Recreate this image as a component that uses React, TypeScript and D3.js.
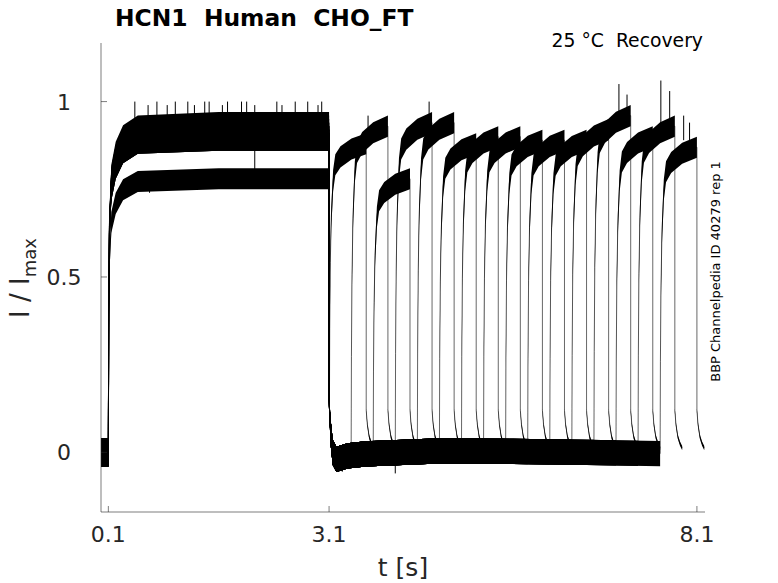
import * as d3 from "d3";
import { useMemo } from "react";

const WIDTH = 778;
const HEIGHT = 583;

// protocol times [s]
const PULSE1_ON = 0.1;
const PULSE1_OFF = 3.1;
const PULSE2_ON = [3.105, 3.4, 3.7, 4.0, 4.3, 4.6, 4.9, 5.2, 5.5, 5.8, 6.1, 6.4, 6.7, 7.0, 7.3, 7.6];
const PULSE2_LEN = 0.5;

// plateau levels (I / Imax) of each sweep
const PULSE1_LEVEL = [0.9, 0.93, 0.78, 0.91, 0.92, 0.89, 0.92, 0.9, 0.93, 0.9, 0.89, 0.94, 0.91, 0.9, 0.92, 0.89];
const PULSE2_LEVEL = [0.88, 0.93, 0.78, 0.94, 0.94, 0.88, 0.9, 0.9, 0.89, 0.89, 0.89, 0.92, 0.96, 0.9, 0.93, 0.87];

// trace shapes: [time after step (s), fraction or value]
const PRE_BASE: [number, number][] = [[0.005, 0], [0.1, 0]];
const RISE1: [number, number][] = [
  [0, 0], [0.005, 0.45], [0.015, 0.7], [0.04, 0.84], [0.1, 0.91], [0.2, 0.96], [0.4, 0.99], [1.5, 1], [3.0, 1],
];
const BASE_AFTER: [number, number][] = [
  [0, 0.15], [0.02, 0.06], [0.05, 0], [0.1, -0.02], [0.25, -0.01], [0.5, -0.004],
  [1.5, 0.004], [2.5, 0.003], [3.5, 0], [4.6, -0.004],
];
const RISE2: [number, number][] = [
  [0, 0], [0.004, 0.3], [0.012, 0.55], [0.025, 0.72], [0.05, 0.86], [0.08, 0.92], [0.15, 0.95], [0.3, 0.98], [0.5, 1],
];
const TAIL2: [number, number][] = [[0, 0.12], [0.015, 0.08], [0.04, 0.045], [0.07, 0.025], [0.1, 0.012]];

// noise half-width of the recordings
const NOISE_PRE = 0.04;
const NOISE_PULSE = 0.03;
const NOISE_BASE = 0.036;
const NOISE_TAIL = 0.006;

// single tall noise spikes: [t, low, high]
const SPIKES: [number, number, number][] = [
  [0.46, 0.93, 1.0], [0.64, 0.93, 0.99], [0.76, 0.93, 1.0], [0.9, 0.93, 0.99], [1.01, 0.93, 1.0],
  [1.18, 0.93, 1.0], [1.27, 0.93, 0.99], [1.41, 0.93, 1.0], [1.47, 0.93, 1.0], [1.65, 0.93, 0.99],
  [1.72, 0.93, 1.0], [1.91, 0.93, 1.0], [1.98, 0.93, 1.0], [2.09, 0.93, 0.99], [2.39, 0.93, 1.0],
  [2.46, 0.93, 0.99], [2.64, 0.93, 1.0], [2.81, 0.93, 1.0], [2.95, 0.93, 0.99], [3.0, 0.93, 1.0],
  [2.09, 0.76, 0.86], [0.66, 0.74, 0.8],
  [3.63, 0.9, 0.96], [4.46, 0.93, 1.0], [7.04, 0.96, 1.05], [7.15, 0.96, 1.02],
  [7.61, 0.92, 1.06], [7.73, 0.92, 1.03], [7.92, 0.89, 0.96], [8.0, 0.89, 0.94],
  [4.0, -0.06, -0.03], [3.22, -0.055, -0.03], [3.28, -0.055, -0.03],
];

const X_TICKS = [0.1, 3.1, 8.1];
const Y_TICKS = [0, 0.5, 1];

type Pt = { t: number; v: number; n: number };

function interp(table: [number, number][], dt: number) {
  for (let i = 1; i < table.length; i++) {
    if (dt <= table[i][0]) {
      const [t0, v0] = table[i - 1];
      const [t1, v1] = table[i];
      return v0 + ((v1 - v0) * (dt - t0)) / (t1 - t0);
    }
  }
  return table[table.length - 1][1];
}

function sweep(k: number): Pt[] {
  const pts: Pt[] = [];
  const l1 = PULSE1_LEVEL[k];
  const l2 = PULSE2_LEVEL[k];
  const on2 = PULSE2_ON[k];

  PRE_BASE.forEach(([t, v]) => pts.push({ t, v, n: NOISE_PRE }));
  RISE1.forEach(([dt, f], i) => pts.push({ t: PULSE1_ON + dt, v: l1 * f, n: i === 0 ? 0 : NOISE_PULSE }));

  // back to holding potential until the second step
  const gap = on2 - PULSE1_OFF;
  BASE_AFTER.filter(([dt]) => dt < gap).forEach(([dt, v], i) =>
    pts.push({ t: PULSE1_OFF + dt, v, n: i === 0 ? NOISE_TAIL : NOISE_BASE })
  );
  const base = interp(BASE_AFTER, gap);
  pts.push({ t: on2, v: base, n: gap < 0.05 ? NOISE_TAIL : NOISE_BASE });

  RISE2.forEach(([dt, f], i) =>
    pts.push({ t: on2 + dt, v: base + (l2 - base) * f, n: i === 0 ? 0 : NOISE_PULSE })
  );
  TAIL2.forEach(([dt, v]) => pts.push({ t: on2 + PULSE2_LEN + dt, v, n: NOISE_TAIL }));
  return pts;
}

export default function App() {
  const x = d3.scaleLinear().domain([0, 8.21]).range([101, 705]);
  const y = d3.scaleLinear().domain([-0.17, 1.167]).range([512, 43]);

  const sweeps = useMemo(() => PULSE2_ON.map((_, k) => sweep(k)), []);

  const line = d3
    .line<Pt>()
    .x((d) => x(d.t))
    .y((d) => y(d.v));
  const band = d3
    .area<Pt>()
    .x((d) => x(d.t))
    .y0((d) => y(d.v - d.n))
    .y1((d) => y(d.v + d.n));

  const font = "DejaVu Sans";
  const axisColor = "#262626";

  return (
    <div style={{ position: "fixed", left: 0, top: 0 }}>
      <svg width={WIDTH} height={HEIGHT} style={{ display: "block", background: "#fff" }} fontFamily={font}>
        {/* traces */}
        <g>
          {sweeps.map((pts, k) => (
            <g key={k}>
              <path d={band(pts) ?? ""} fill="#000" />
              <path d={line(pts) ?? ""} fill="none" stroke="#000" strokeWidth={0.6} />
            </g>
          ))}
          {SPIKES.map(([t, lo, hi], i) => (
            <line key={i} x1={x(t)} x2={x(t)} y1={y(lo)} y2={y(hi)} stroke="#000" strokeWidth={1} />
          ))}
        </g>

        {/* axes */}
        <g stroke={axisColor} strokeWidth={0.6}>
          <line x1={x.range()[0]} x2={x.range()[0]} y1={y.range()[0]} y2={y.range()[1]} />
          <line x1={x.range()[0]} x2={x.range()[1]} y1={y.range()[0]} y2={y.range()[0]} />
          {X_TICKS.map((t) => (
            <line key={t} x1={x(t)} x2={x(t)} y1={y.range()[0]} y2={y.range()[0] - 6} />
          ))}
          {Y_TICKS.map((t) => (
            <line key={t} x1={x.range()[0]} x2={x.range()[0] + 6} y1={y(t)} y2={y(t)} />
          ))}
        </g>
        <g fill={axisColor} fontSize={22}>
          {X_TICKS.map((t) => (
            <text key={t} x={x(t)} y={542} textAnchor="middle">
              {d3.format(".1f")(t)}
            </text>
          ))}
          {Y_TICKS.map((t) => (
            <text key={t} x={64} y={y(t)} dy="0.36em" textAnchor="middle">
              {String(t)}
            </text>
          ))}
        </g>

        {/* labels */}
        <text x={403} y={576} textAnchor="middle" fontSize={25} fill={axisColor}>
          t [s]
        </text>
        <text transform="translate(29,278) rotate(-90)" textAnchor="middle" fontSize={26} fill={axisColor}>
          I / I
          <tspan fontSize={18} dy={7}>
            max
          </tspan>
        </text>
        <text x={115} y={26} fontSize={23.4} fontWeight="bold" fill="#000" style={{ whiteSpace: "pre" }}>
          {"HCN1  Human  CHO_FT"}
        </text>
        <text x={703} y={47} fontSize={18.8} textAnchor="end" fill="#000" style={{ whiteSpace: "pre" }}>
          {"25 °C  Recovery"}
        </text>
        <text transform="translate(720,271.5) rotate(-90)" textAnchor="middle" fontSize={13} fill="#000">
          BBP Channelpedia ID 40279 rep 1
        </text>
      </svg>
    </div>
  );
}
